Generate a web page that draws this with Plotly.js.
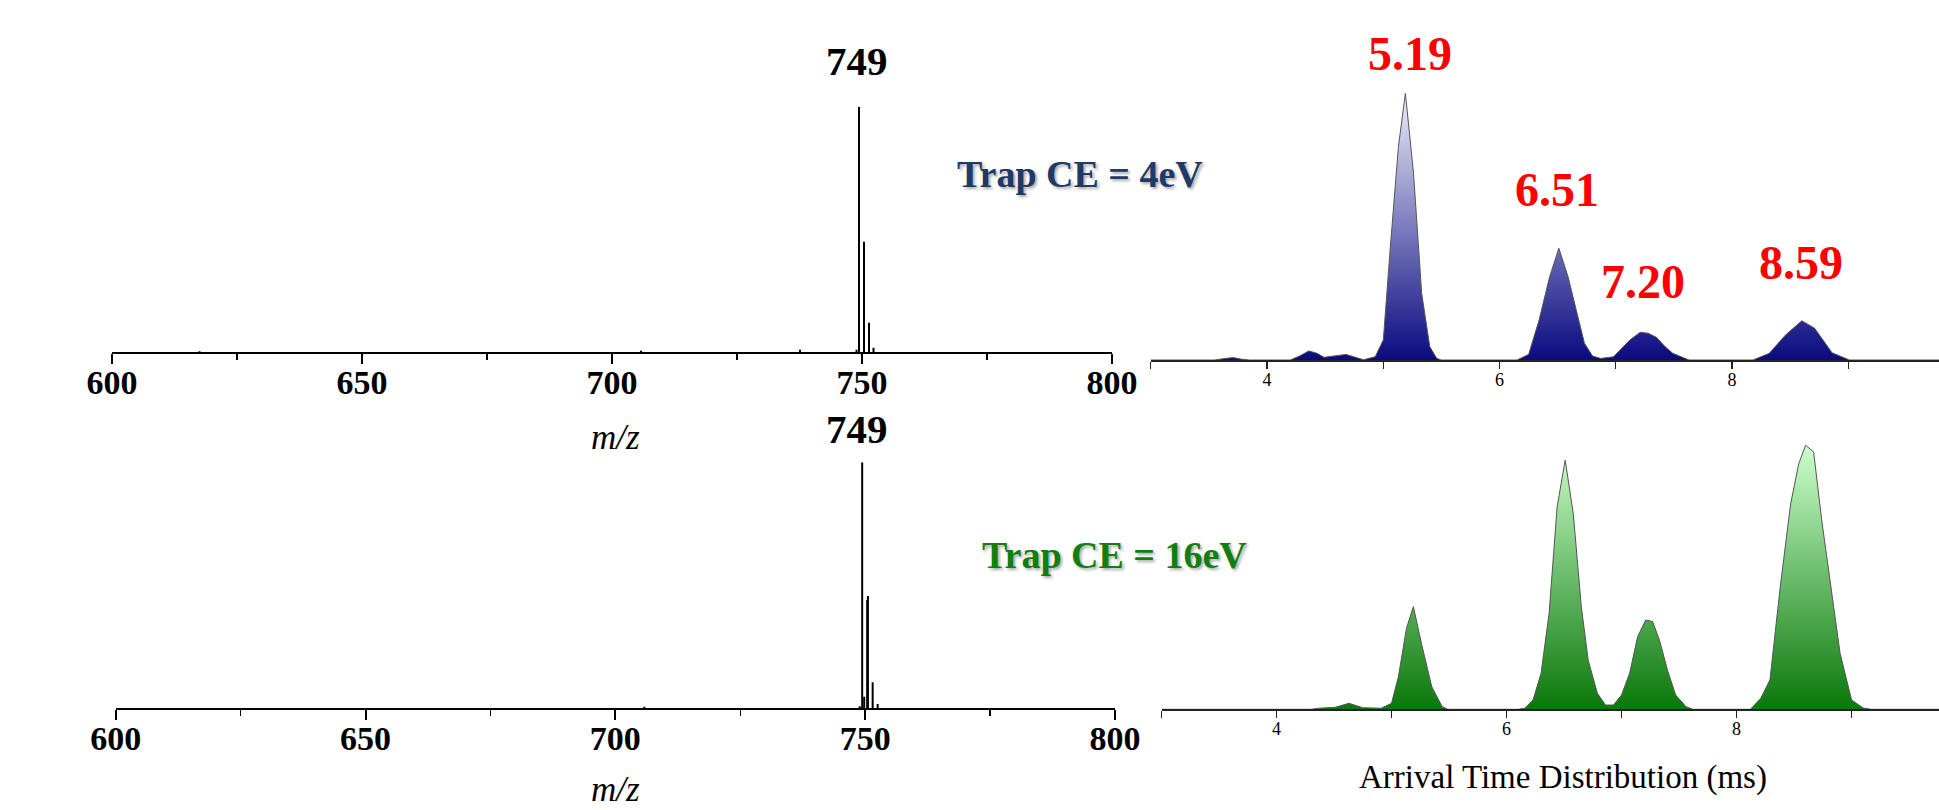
<!DOCTYPE html>
<html>
<head>
<meta charset="utf-8">
<script src="https://cdn.plot.ly/plotly-3.0.1.min.js"></script>
<style>html,body{margin:0;padding:0;background:#fff;}#chart{width:1939px;height:810px;}</style>
</head>
<body>
<div id="chart"></div>
<script>
// ---------- DATA ----------
// Mass spectrum, Trap CE = 4 eV (m/z, relative intensity %)
const msTopMz  = [617.5, 705.8, 737.6, 748.9, 749.4, 750.4, 751.4, 752.3];
const msTopInt = [0.4, 0.6, 1.0, 1.0, 100, 45, 12, 1.9];
// Mass spectrum, Trap CE = 16 eV
const msBotMz  = [705.8, 748.9, 749.4, 749.8, 750.4, 750.55, 751.5, 752.5];
const msBotInt = [0.6, 0.8, 100, 4.7, 44, 45.6, 10.6, 1.75];

// Arrival time distribution, Trap CE = 4 eV (ms, relative intensity)
const atdTopT = [3.0, 3.55, 3.64, 3.71, 3.78, 3.85, 4.20, 4.28, 4.36, 4.43, 4.49, 4.58, 4.68, 4.76, 4.83,
                 4.93, 5.0, 5.06, 5.13, 5.19, 5.26, 5.33, 5.40, 5.46, 5.5,
                 6.15, 6.25, 6.34, 6.43, 6.51, 6.59, 6.66, 6.73, 6.80, 6.87,
                 6.98, 7.12, 7.21, 7.28, 7.35, 7.42, 7.49, 7.63,
                 8.18, 8.32, 8.46, 8.53, 8.60, 8.71, 8.78, 8.86, 9.01, 9.78];
const atdTopI = [0, 0, 0.6, 0.9, 0.3, 0, 0, 1.5, 3.4, 2.5, 1.0, 1.6, 2.1, 1.0, 0.1,
                 1.2, 7.5, 42, 80, 100, 70, 25, 5, 0.6, 0,
                 0, 2.1, 15.0, 31.1, 41.9, 31.1, 18.7, 6.3, 1.5, 0.6,
                 1.2, 7.5, 10.4, 10.0, 8.5, 5.2, 2.5, 0,
                 0, 2.5, 9.4, 11.9, 14.7, 11.9, 7.5, 2.7, 0, 0];
// Arrival time distribution, Trap CE = 16 eV
const atdBotT = [3.0, 4.30, 4.37, 4.51, 4.63, 4.75, 4.91,
                 5.0, 5.06, 5.13, 5.19, 5.26, 5.35, 5.44, 5.49,
                 6.10, 6.16, 6.23, 6.30, 6.37, 6.44, 6.51, 6.58, 6.65, 6.71, 6.79, 6.86,
                 6.93, 7.00, 7.07, 7.14, 7.21, 7.27, 7.33, 7.40, 7.47, 7.56, 7.62,
                 8.12, 8.21, 8.29, 8.38, 8.47, 8.54, 8.60, 8.67, 8.74, 8.81, 8.90, 9.0, 9.1, 9.17, 9.76];
const atdBotI = [0, 0, 0.4, 0.75, 2.25, 0.6, 0.4,
                 2.25, 12.3, 30.4, 38.5, 24.7, 8.5, 1.0, 0,
                 0, 0.4, 3.5, 13.5, 36.0, 76.0, 93.4, 73.5, 38.5, 18.4, 6.0, 1.6,
                 1.6, 5.4, 13.5, 27.3, 33.5, 32.9, 25.9, 14.6, 5.4, 1.0, 0,
                 0, 4.1, 11, 46, 77, 92, 99, 96.5, 71, 48.4, 21, 3.5, 0.5, 0, 0];

// Peak labels
const msPeakLabel = "749";
const atdPeakLabels = ["5.19", "6.51", "7.20", "8.59"];
const ceLabels = ["Trap CE = 4eV", "Trap CE = 16eV"];
const msAxisTitle = "m/z";
const atdAxisTitle = "Arrival Time Distribution (ms)";
const msTicks = [600, 650, 700, 750, 800];

// ---------- LAYOUT HELPERS ----------
const W = 1939, H = 810;
const px = x => x / W;
const py = y => 1 - y / H;
const serif = "'Liberation Serif', 'Times New Roman', serif";

function sticks(mz, inten, xa, ya) {
  const x = [], y = [];
  mz.forEach((m, i) => { x.push(m, m, null); y.push(0, inten[i], null); });
  return {type: 'scatter', mode: 'lines', x, y, xaxis: xa, yaxis: ya,
          line: {color: '#000', width: 2}, hoverinfo: 'skip', cliponaxis: false};
}
function atd(t, inten, xa, ya, dark, light, top) {
  return {type: 'scatter', mode: 'lines', x: t, y: inten, xaxis: xa, yaxis: ya,
          fill: 'tozeroy',
          fillgradient: {type: 'vertical', start: 0, stop: top,
                         colorscale: [[0, dark], [1, light]]},
          line: {color: '#555', width: 1}, hoverinfo: 'skip'};
}

const traces = [
  sticks(msTopMz, msTopInt, 'x', 'y'),
  sticks(msBotMz, msBotInt, 'x2', 'y2'),
  atd(atdTopT, atdTopI, 'x3', 'y3', '#0a0a80', '#eeeefb', Math.max(...atdTopI)),
  atd(atdBotT, atdBotI, 'x4', 'y4', '#0a780a', '#ccffcc', Math.max(...atdBotI))
];

function msX(d0, d1, ya) {
  return {domain: [px(d0), px(d1)], range: [600, 800], anchor: ya,
          showline: true, linecolor: '#000', linewidth: 2, showgrid: false, zeroline: false,
          ticks: 'outside', ticklen: 10, tickwidth: 2, tickcolor: '#000',
          tickvals: msTicks, ticktext: msTicks.map(String),
          ticklabelstandoff: -11,
          tickfont: {family: serif, size: 34, color: '#000', weight: 'bold'},
          minor: {dtick: 25, tick0: 600, ticks: 'outside', ticklen: 6, tickwidth: 1.5, tickcolor: '#000'},
          fixedrange: true};
}
function atdX(d0, d1, r1, ya) {
  return {domain: [px(d0), px(d1)], range: [3, r1], anchor: ya,
          showline: true, linecolor: '#222', linewidth: 1.5, showgrid: false, zeroline: false,
          ticks: 'outside', ticklen: 7, tickwidth: 1.2, tickcolor: '#222',
          tick0: 0, dtick: 2,
          ticklabelstandoff: -4,
          tickfont: {family: serif, size: 18, color: '#000'},
          minor: {dtick: 1, tick0: 0, ticks: 'outside', ticklen: 7, tickwidth: 1.2, tickcolor: '#222'},
          fixedrange: true};
}
function hiddenY(top, bottom, xa) {
  return {domain: [py(bottom), py(top)], range: [0, 100], anchor: xa, visible: false, fixedrange: true};
}

function ann(text, x, y, size, color, opts) {
  return Object.assign({text, x: px(x), y: py(y), xref: 'paper', yref: 'paper',
    showarrow: false, xanchor: 'center', yanchor: 'middle',
    font: {family: serif, size, color, weight: 'bold'}}, opts || {});
}

const annotations = [
  ann(msPeakLabel, 857, 61, 41, '#000'),
  ann(msPeakLabel, 857, 429, 41, '#000'),
  ann(msAxisTitle, 615, 437, 34, '#000', {font: {family: serif, size: 35, color: '#000', style: 'italic'}}),
  ann(msAxisTitle, 615, 789, 34, '#000', {font: {family: serif, size: 35, color: '#000', style: 'italic'}}),
  ann(atdPeakLabels[0], 1410, 53, 48, '#ff0000'),
  ann(atdPeakLabels[1], 1557, 189, 48, '#ff0000'),
  ann(atdPeakLabels[2], 1643, 282, 48, '#ff0000'),
  ann(atdPeakLabels[3], 1801, 263, 48, '#ff0000'),
  ann(ceLabels[0], 955, 174, 38, '#1f3a66', {xanchor: 'left',
      font: {family: serif, size: 38, color: '#1f3a66', weight: 'bold', shadow: '2px 2px 3px rgba(0,0,0,0.35)'}}),
  ann(ceLabels[1], 980, 555, 38, '#0f800f', {xanchor: 'left',
      font: {family: serif, size: 38, color: '#0f800f', weight: 'bold', shadow: '2px 2px 3px rgba(0,0,0,0.35)'}}),
  ann(atdAxisTitle, 1563, 777, 33, '#000', {font: {family: serif, size: 33, color: '#000'}})
];

const layout = {
  width: W, height: H,
  margin: {l: 0, r: 0, t: 0, b: 0, pad: 0},
  paper_bgcolor: '#fff', plot_bgcolor: 'rgba(0,0,0,0)',
  showlegend: false,
  xaxis: msX(112, 1112, 'y'),
  yaxis: hiddenY(106.7, 352.3, 'x'),
  xaxis2: msX(115.7, 1115, 'y2'),
  yaxis2: hiddenY(462.3, 708.3, 'x2'),
  xaxis3: atdX(1150.8, 1939, 9.78, 'y3'),
  yaxis3: hiddenY(93.3, 360, 'x3'),
  xaxis4: atdX(1161.5, 1939, 9.76, 'y4'),
  yaxis4: hiddenY(442.6, 709.3, 'x4'),
  annotations
};

Plotly.newPlot('chart', traces, layout, {staticPlot: true, displayModeBar: false});
</script>
</body>
</html>
